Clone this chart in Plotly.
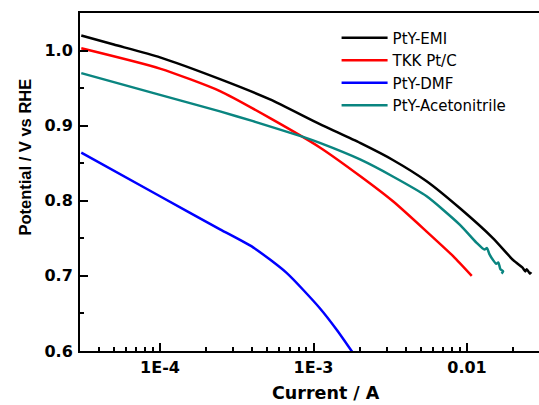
import plotly.graph_objects as go

# Current (A) and potential (V vs RHE)
emi_current = [3.07e-5, 5.0e-5, 1.0e-4, 2.46e-4, 5.21e-4, 1.10e-3, 2.01e-3, 3.31e-3,
               5.46e-3, 9.0e-3, 1.48e-2, 2.0e-2, 2.3e-2, 2.4e-2, 2.45e-2, 2.57e-2, 2.62e-2]
emi_potential = [1.020, 1.008, 0.991, 0.962, 0.935, 0.902, 0.877, 0.854,
                 0.826, 0.790, 0.750, 0.721, 0.711, 0.706, 0.709, 0.703, 0.705]

tkk_current = [3.07e-5, 1.0e-4, 2.46e-4, 5.21e-4, 1.10e-3, 2.01e-3, 3.31e-3,
               5.46e-3, 8.15e-3, 1.074e-2]
tkk_potential = [1.003, 0.976, 0.946, 0.910, 0.871, 0.833, 0.799,
                 0.759, 0.726, 0.700]

dmf_current = [3.07e-5, 1.0e-4, 2.46e-4, 4.04e-4, 6.68e-4, 1.10e-3, 1.42e-3, 1.80e-3]
dmf_potential = [0.864, 0.806, 0.762, 0.738, 0.704, 0.657, 0.628, 0.598]

acn_current = [3.07e-5, 1.0e-4, 2.46e-4, 4.04e-4, 8.55e-4, 1.10e-3, 2.01e-3, 3.31e-3,
               5.46e-3, 9.0e-3, 1.156e-2, 1.3e-2, 1.35e-2, 1.4e-2, 1.48e-2, 1.55e-2,
               1.6e-2, 1.65e-2, 1.72e-2, 1.68e-2]
acn_potential = [0.970, 0.941, 0.919, 0.906, 0.885, 0.877, 0.855, 0.832,
                 0.806, 0.768, 0.744, 0.735, 0.737, 0.729, 0.721, 0.716,
                 0.718, 0.709, 0.706, 0.703]

series_names = ["PtY-EMI", "TKK Pt/C", "PtY-DMF", "PtY-Acetonitrile"]
series_colors = ["#000000", "#ff0000", "#0000ff", "#0a8580"]

x_major_vals = [1e-4, 1e-3, 1e-2]
x_major_text = ["1E-4", "1E-3", "0.01"]
x_minor_vals = [4e-5, 5e-5, 6e-5, 7e-5, 8e-5, 9e-5,
                2e-4, 3e-4, 4e-4, 5e-4, 6e-4, 7e-4, 8e-4, 9e-4,
                2e-3, 3e-3, 4e-3, 5e-3, 6e-3, 7e-3, 8e-3, 9e-3,
                2e-2]
y_major_vals = [0.6, 0.7, 0.8, 0.9, 1.0]
y_major_text = ["0.6", "0.7", "0.8", "0.9", "1.0"]
y_minor_vals = [0.65, 0.75, 0.85, 0.95]

x_title = "Current / A"
y_title = "Potential / V vs RHE"

fig = go.Figure()
data = [(emi_current, emi_potential), (tkk_current, tkk_potential),
        (dmf_current, dmf_potential), (acn_current, acn_potential)]
for (xs, ys), name, color in zip(data, series_names, series_colors):
    fig.add_trace(go.Scatter(x=xs, y=ys, mode="lines", name=name,
                             line=dict(color=color, width=2.5, shape="spline", smoothing=0.6)))

tickfont = dict(family="DejaVu Sans, sans-serif", size=16, color="black", weight="bold")
xtitlefont = dict(family="DejaVu Sans, sans-serif", size=17.5, color="black", weight="bold")
ytitlefont = dict(family="Liberation Sans, Arial, sans-serif", size=16.5, color="black", weight="bold")

fig.update_xaxes(type="log", range=[-4.5212, -1.5309], automargin=False,
                 tickmode="array", tickvals=x_major_vals, ticktext=x_major_text,
                 ticks="inside", ticklen=8, tickwidth=2, tickcolor="black",
                 minor=dict(tickmode="array", tickvals=x_minor_vals, ticks="inside",
                            ticklen=4, tickwidth=2, tickcolor="black", showgrid=False),
                 showline=True, linewidth=2, linecolor="black", mirror=True,
                 showgrid=False, zeroline=False, tickfont=tickfont,
                 ticklabelstandoff=1)
fig.update_yaxes(range=[0.6, 1.05], automargin=False,
                 tickmode="array", tickvals=y_major_vals, ticktext=y_major_text,
                 ticks="inside", ticklen=8, tickwidth=2, tickcolor="black",
                 minor=dict(tickmode="array", tickvals=y_minor_vals, ticks="inside",
                            ticklen=4, tickwidth=2, tickcolor="black", showgrid=False),
                 showline=True, linewidth=2, linecolor="black", mirror=False,
                 showgrid=False, zeroline=False, tickfont=tickfont,
                 ticklabelstandoff=2)

fig.add_annotation(text=x_title, xref="paper", yref="paper", x=0.536, y=-0.124,
                   xanchor="center", yanchor="middle", showarrow=False, font=xtitlefont)
fig.add_annotation(text=y_title, xref="paper", yref="paper", x=-0.12, y=0.575,
                   xanchor="center", yanchor="middle", showarrow=False, textangle=-90,
                   font=ytitlefont)

fig.update_layout(
    width=539, height=405,
    margin=dict(l=80, r=0, t=13, b=54),
    paper_bgcolor="white", plot_bgcolor="white",
    showlegend=True,
    legend=dict(x=0.559, y=0.975, xanchor="left", yanchor="top",
                bgcolor="rgba(0,0,0,0)", borderwidth=0,
                font=dict(family="DejaVu Sans, sans-serif", size=15, color="black"),
                itemwidth=46, tracegroupgap=0),
)

fig.write_html("out.html", config={"displayModeBar": False},
               post_script="document.body.style.margin='0px';")
